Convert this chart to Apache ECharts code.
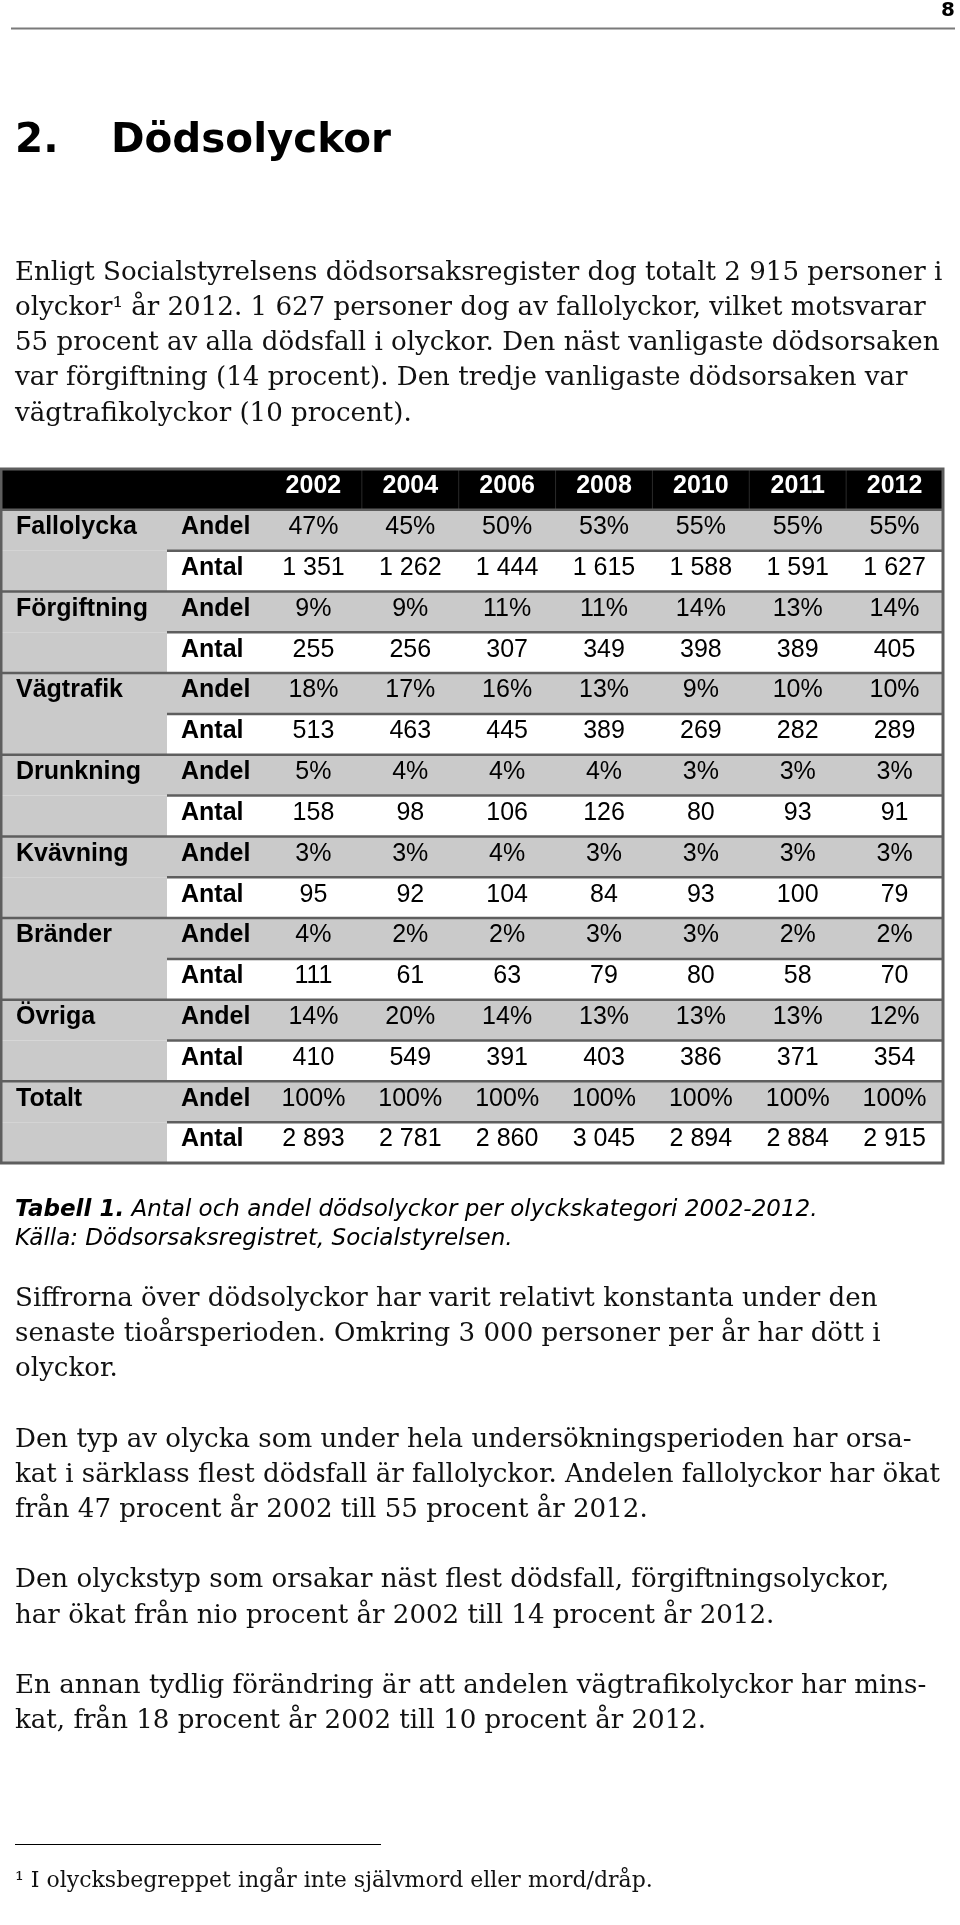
<!DOCTYPE html>
<html><head><meta charset="utf-8">
<script src="https://cdn.jsdelivr.net/npm/echarts@6/dist/echarts.min.js"></script>
<style>html,body{margin:0;padding:0;background:#fff}#c{width:960px;height:1925px}</style>
</head><body><div id="c"></div>
<script>
// ---------- data ----------
const years = ['2002','2004','2006','2008','2010','2011','2012'];
const categories = ['Fallolycka','Förgiftning','Vägtrafik','Drunkning','Kvävning','Bränder','Övriga','Totalt'];
const measureLabels = ['Andel','Antal'];

const fallolyckaAndel  = [47,45,50,53,55,55,55];
const fallolyckaAntal  = [1351,1262,1444,1615,1588,1591,1627];
const forgiftningAndel = [9,9,11,11,14,13,14];
const forgiftningAntal = [255,256,307,349,398,389,405];
const vagtrafikAndel   = [18,17,16,13,9,10,10];
const vagtrafikAntal   = [513,463,445,389,269,282,289];
const drunkningAndel   = [5,4,4,4,3,3,3];
const drunkningAntal   = [158,98,106,126,80,93,91];
const kvavningAndel    = [3,3,4,3,3,3,3];
const kvavningAntal    = [95,92,104,84,93,100,79];
const branderAndel     = [4,2,2,3,3,2,2];
const branderAntal     = [111,61,63,79,80,58,70];
const ovrigaAndel      = [14,20,14,13,13,13,12];
const ovrigaAntal      = [410,549,391,403,386,371,354];
const totaltAndel      = [100,100,100,100,100,100,100];
const totaltAntal      = [2893,2781,2860,3045,2894,2884,2915];

const andelRows = [fallolyckaAndel, forgiftningAndel, vagtrafikAndel, drunkningAndel, kvavningAndel, branderAndel, ovrigaAndel, totaltAndel];
const antalRows = [fallolyckaAntal, forgiftningAntal, vagtrafikAntal, drunkningAntal, kvavningAntal, branderAntal, ovrigaAntal, totaltAntal];

// ---------- text ----------
const pageNumber = '8';
const titleNum = '2.';
const titleText = 'Dödsolyckor';
const para1 = [
  'Enligt Socialstyrelsens dödsorsaksregister dog totalt 2 915 personer i',
  'olyckor¹ år 2012. 1 627 personer dog av fallolyckor, vilket motsvarar',
  '55 procent av alla dödsfall i olyckor. Den näst vanligaste dödsorsaken',
  'var förgiftning (14 procent). Den tredje vanligaste dödsorsaken var',
  'vägtrafikolyckor (10 procent).'
];
const captionBold = 'Tabell 1.';
const captionRest = ' Antal och andel dödsolyckor per olyckskategori 2002-2012.';
const captionLine2 = 'Källa: Dödsorsaksregistret, Socialstyrelsen.';
const para2 = [
  'Siffrorna över dödsolyckor har varit relativt konstanta under den',
  'senaste tioårsperioden. Omkring 3 000 personer per år har dött i',
  'olyckor.'
];
const para3 = [
  'Den typ av olycka som under hela undersökningsperioden har orsa-',
  'kat i särklass flest dödsfall är fallolyckor. Andelen fallolyckor har ökat',
  'från 47 procent år 2002 till 55 procent år 2012.'
];
const para4 = [
  'Den olyckstyp som orsakar näst flest dödsfall, förgiftningsolyckor,',
  'har ökat från nio procent år 2002 till 14 procent år 2012.'
];
const para5 = [
  'En annan tydlig förändring är att andelen vägtrafikolyckor har mins-',
  'kat, från 18 procent år 2002 till 10 procent år 2012.'
];
const footnote = '¹ I olycksbegreppet ingår inte självmord eller mord/dråp.';

// ---------- helpers ----------
const fmtPct = v => v + '%';
const fmtNum = v => String(v).replace(/\B(?=(\d{3})+(?!\d))/g, ' ');
const mctx = document.createElement('canvas').getContext('2d');
function fitSize(weight, style, family, text, target) {
  mctx.font = style + ' ' + weight + ' 100px ' + family;
  return 100 * target / mctx.measureText(text).width;
}

const SERIF = '"DejaVu Serif", Georgia, serif';
const SANS = '"DejaVu Sans", Verdana, sans-serif';
const TSANS = '"Liberation Sans", Arial, sans-serif';

const bodySize = fitSize('normal', 'normal', SERIF, para1[0], 928);
const footSize = fitSize('normal', 'normal', SERIF, footnote, 638);
const titleSize = fitSize('bold', 'normal', SANS, titleText, 280);
const capSize = (function () {
  mctx.font = 'italic bold 100px ' + SANS;
  const a = mctx.measureText(captionBold).width;
  mctx.font = 'italic normal 100px ' + SANS;
  const b = mctx.measureText(captionRest).width;
  return 100 * 803 / (a + b);
})();

// ---------- table layout ----------
const tableRows = [{ kind: 'header' }];
categories.forEach((c, i) => {
  tableRows.push({ kind: 'andel', cat: c, vals: andelRows[i].map(fmtPct) });
  tableRows.push({ kind: 'antal', cat: c, vals: antalRows[i].map(fmtNum) });
});
const COL_W = [166, 98, 96.86, 96.86, 96.86, 96.86, 96.86, 96.86, 96.86];
const COL_EDGES = COL_W.reduce((a, w) => { a.push(a[a.length - 1] + w); return a; }, [0]);
const TOTAL_W = COL_EDGES[COL_EDGES.length - 1];

const GREY = '#cacaca';
const LINE = '#5e5e5e';
const TFS = 25;

function renderItem(params, api) {
  const r = api.value(1);
  const row = tableRows[r];
  const c = api.coord([0, r]);
  const h = api.size([0, 1])[1];
  const yTop = c[1] - h / 2;
  const xAt = v => api.coord([v, r])[0];
  const xs = COL_EDGES.map(xAt);
  const x0 = xs[0], xEnd = xs[xs.length - 1];
  const ty = c[1] - 3;
  const ch = [];
  const txt = (text, x, align, bold, fill) => ch.push({
    type: 'text', x: x, y: ty, z2: 5,
    style: { text: text, fill: fill || '#000', align: align, verticalAlign: 'middle',
      fontFamily: TSANS, fontSize: TFS, fontWeight: bold ? 'bold' : 'normal' }
  });
  if (row.kind === 'header') {
    ch.push({ type: 'rect', shape: { x: x0, y: yTop, width: xEnd - x0, height: h }, style: { fill: '#000' } });
    for (let k = 2; k < xs.length - 1; k++) {
      ch.push({ type: 'line', shape: { x1: xs[k + 1], y1: yTop, x2: xs[k + 1], y2: yTop + h }, style: { stroke: '#2a2a2a', lineWidth: 1 } });
    }
    years.forEach((y, k) => txt(y, (xs[k + 2] + xs[k + 3]) / 2, 'center', true, '#fff'));
  } else if (row.kind === 'andel') {
    ch.push({ type: 'rect', shape: { x: x0, y: yTop, width: xEnd - x0, height: h }, style: { fill: GREY } });
    ch.push({ type: 'line', shape: { x1: x0, y1: yTop, x2: xEnd, y2: yTop }, style: { stroke: LINE, lineWidth: 2.5 } });
    txt(row.cat, x0 + 15, 'left', true);
    txt(measureLabels[0], xs[1] + 14, 'left', true);
    row.vals.forEach((v, k) => txt(v, (xs[k + 2] + xs[k + 3]) / 2, 'center', false));
  } else {
    ch.push({ type: 'rect', shape: { x: x0, y: yTop, width: xs[1] - x0, height: h }, style: { fill: GREY } });
    ch.push({ type: 'rect', shape: { x: xs[1], y: yTop, width: xEnd - xs[1], height: h }, style: { fill: '#fff' } });
    ch.push({ type: 'line', shape: { x1: xs[1], y1: yTop, x2: xEnd, y2: yTop }, style: { stroke: LINE, lineWidth: 2.5 } });
    txt(measureLabels[1], xs[1] + 14, 'left', true);
    row.vals.forEach((v, k) => txt(v, (xs[k + 2] + xs[k + 3]) / 2, 'center', false));
  }
  if (r === tableRows.length - 1) {
    const top = api.coord([0, 0])[1] - h / 2;
    ch.push({ type: 'rect', z2: 10, shape: { x: x0, y: top, width: xEnd - x0, height: h * tableRows.length },
      style: { fill: 'none', stroke: LINE, lineWidth: 3 } });
  }
  return { type: 'group', children: ch };
}

// ---------- page text ----------
const els = [];
els.push({ type: 'text', x: 955, y: 11, style: { text: pageNumber, align: 'right', verticalAlign: 'middle', fontFamily: SANS, fontWeight: 'bold', fontSize: 20, fill: '#000' } });
els.push({ type: 'line', shape: { x1: 11, y1: 28.5, x2: 955, y2: 28.5 }, style: { stroke: '#7a7a7a', lineWidth: 2 } });
els.push({ type: 'text', x: 15, y: 141, style: { text: titleNum, align: 'left', verticalAlign: 'middle', fontFamily: SANS, fontWeight: 'bold', fontSize: titleSize, fill: '#000' } });
els.push({ type: 'text', x: 111, y: 141, style: { text: titleText, align: 'left', verticalAlign: 'middle', fontFamily: SANS, fontWeight: 'bold', fontSize: titleSize, fill: '#000' } });

const LH = 35.2;
function addPara(lines, y0) {
  lines.forEach((t, i) => els.push({ type: 'text', x: 15, y: y0 + i * LH,
    style: { text: t, align: 'left', verticalAlign: 'middle', fontFamily: SERIF, fontSize: bodySize, fill: '#111' } }));
}
addPara(para1, 273);
addPara(para2, 1299);
addPara(para3, 1439.8);
addPara(para4, 1580.6);
addPara(para5, 1686.2);

els.push({ type: 'text', x: 15, y: 1210, style: {
  text: '{b|' + captionBold + '}{n|' + captionRest + '}', align: 'left', verticalAlign: 'middle',
  rich: { b: { fontFamily: SANS, fontStyle: 'italic', fontWeight: 'bold', fontSize: capSize, fill: '#000' },
          n: { fontFamily: SANS, fontStyle: 'italic', fontSize: capSize, fill: '#000' } } } });
els.push({ type: 'text', x: 15, y: 1239.5, style: { text: captionLine2, align: 'left', verticalAlign: 'middle', fontFamily: SANS, fontStyle: 'italic', fontSize: capSize, fill: '#000' } });

els.push({ type: 'line', shape: { x1: 15, y1: 1844.5, x2: 381, y2: 1844.5 }, style: { stroke: '#000', lineWidth: 1 } });
els.push({ type: 'text', x: 15, y: 1881, style: { text: footnote, align: 'left', verticalAlign: 'middle', fontFamily: SERIF, fontSize: footSize, fill: '#111' } });

// ---------- chart ----------
const chart = echarts.init(document.getElementById('c'), null, { renderer: 'canvas' });
chart.setOption({
  animation: false,
  backgroundColor: '#fff',
  grid: { left: 1, top: 469, width: 942, height: 694 },
  xAxis: { type: 'value', min: 0, max: TOTAL_W, show: false },
  yAxis: { type: 'category', data: tableRows.map((r, i) => String(i)), inverse: true, show: false },
  series: [{
    type: 'custom',
    renderItem: renderItem,
    encode: { x: 0, y: 1 },
    data: tableRows.map((r, i) => [0, i]),
    clip: false,
    silent: true
  }],
  graphic: { elements: els }
});
</script>
</body></html>
